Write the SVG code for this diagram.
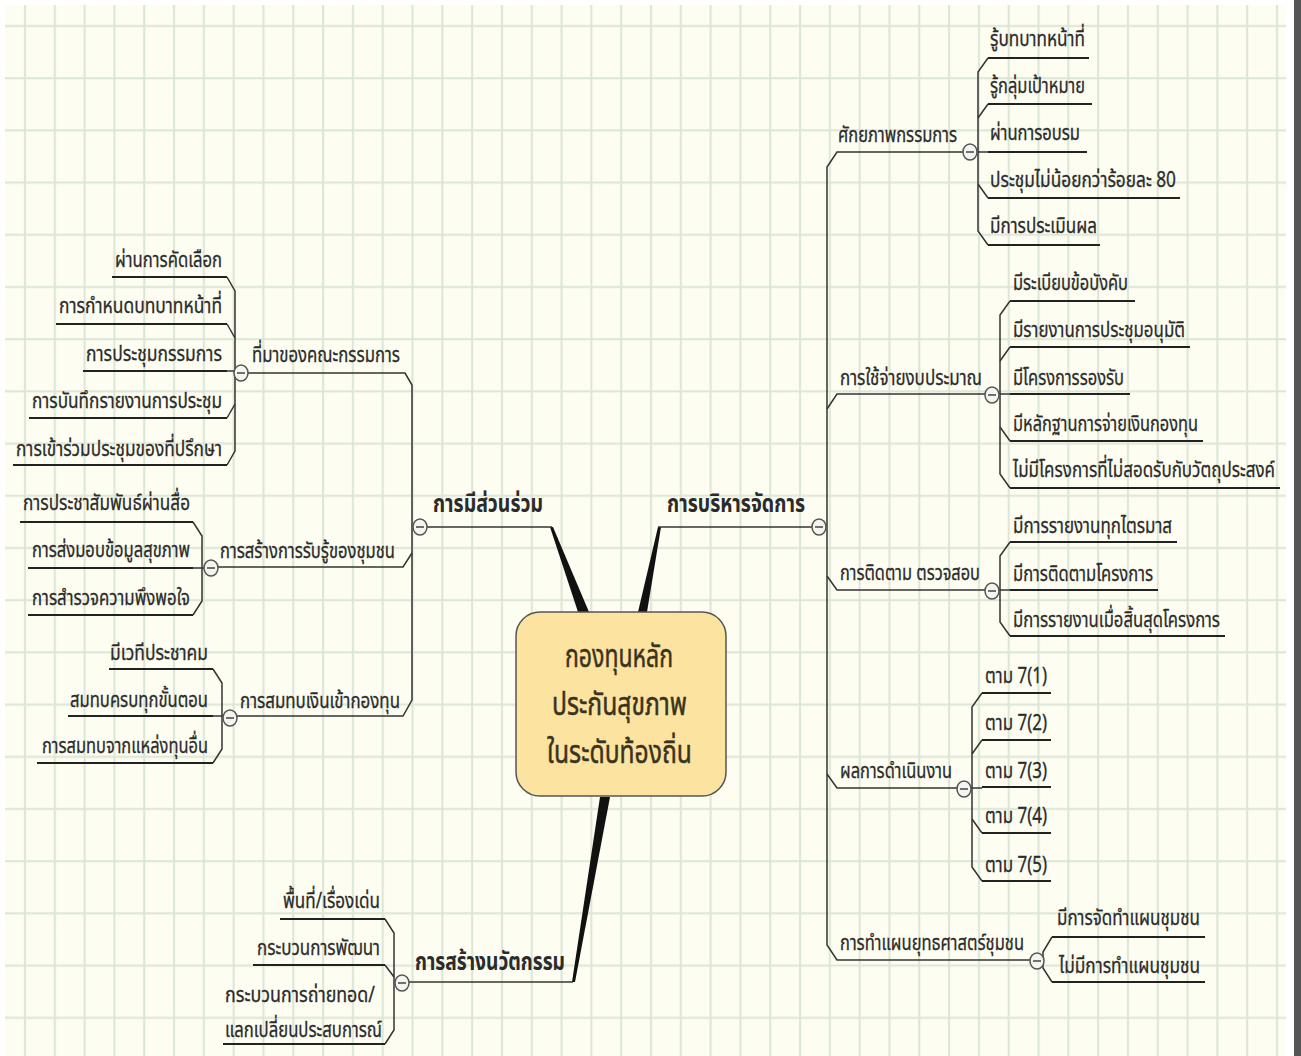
<svg xmlns="http://www.w3.org/2000/svg" width="1301" height="1056" viewBox="0 0 1301 1056">
<defs>
<pattern id="grid" patternUnits="userSpaceOnUse" x="10" y="11" width="29.81" height="52.2">
<rect width="29.81" height="52.2" fill="#FDFDF1"/>
<line x1="15" y1="0" x2="15" y2="52.2" stroke="#DCE6D6" stroke-width="2"/>
<line x1="0" y1="15" x2="29.81" y2="15" stroke="#DCE6D6" stroke-width="2"/>
</pattern>
</defs>
<style>
text{font-family:"Noto Sans Thai","Noto Sans","Liberation Sans",sans-serif;fill:#2b2b2b;}
.t{font-size:22px;stroke:#2b2b2b;stroke-width:0.3;}
.m{font-size:24px;font-weight:bold;}
.c{font-size:32px;fill:#3a3320;stroke:#3a3320;stroke-width:0.5;}
.ln{fill:none;stroke:#333;stroke-width:1.5;}
.ul{fill:none;stroke:#222;stroke-width:2;}
.cir{fill:#F4F4F0;stroke:#555;stroke-width:1.5;}
.mi{stroke:#444;stroke-width:1.5;}
.tp{fill:#111;}
</style>
<rect width="1301" height="1056" fill="#FFFFFF"/>
<rect x="5" y="5" width="1281" height="1051" fill="url(#grid)"/>
<rect x="1294" y="0" width="7" height="1056" fill="#555"/>

<g id="connectors">
<polygon class="tp" points="578,612 589,612 553,527 550,527"/>
<polygon class="tp" points="638,612 647,612 661,527 658,527"/>
<polygon class="tp" points="600,797 610,797 575,982 572,982"/>
<path class="ln" d="M658 527 L812 527"/>
<path class="ln" d="M552 527 L427 527"/>
<path class="ln" d="M573 982 L409 982"/>
<path class="ln" d="M963 152 L837 152 L827 167 L827 945 L837 960 L1030 960"/>
<path class="ln" d="M827 409 L837 394 L985 394"/>
<path class="ln" d="M827 576 L837 590 L985 590"/>
<path class="ln" d="M827 774 L837 788 L957 788"/>
<path class="ln" d="M248 373 L405 373 L412 385 L412 700 L403 716 L237 716"/>
<path class="ln" d="M218 567 L403 567 L412 553"/>
<path class="ln" d="M988 58 L978 72 L978 231 L988 245"/>
<path class="ln" d="M978 118 L988 104"/>
<path class="ln" d="M978 184 L988 198"/>
<path class="ln" d="M977 152 L988 152"/>
<path class="ln" d="M1010 301 L1000 315 L1000 474 L1010 488"/>
<path class="ln" d="M1000 361 L1010 347"/>
<path class="ln" d="M1000 427 L1010 441"/>
<path class="ln" d="M999 394 L1010 394"/>
<path class="ln" d="M1010 542 L1000 556 L1000 622 L1010 636"/>
<path class="ln" d="M999 590 L1010 590"/>
<path class="ln" d="M982 693 L972 707 L972 867 L982 881"/>
<path class="ln" d="M972 754 L982 740"/>
<path class="ln" d="M972 819 L982 833"/>
<path class="ln" d="M971 788 L982 788"/>
<path class="ln" d="M1052 937 L1043 952 L1043 968 L1052 982"/>
<path class="ln" d="M227 277 L235 291 L235 451 L227 465"/>
<path class="ln" d="M235 338 L227 324"/>
<path class="ln" d="M235 404 L227 418"/>
<path class="ln" d="M234 371 L227 371"/>
<path class="ln" d="M193 522 L202 536 L202 601 L193 615"/>
<path class="ln" d="M204 568 L193 568"/>
<path class="ln" d="M213 669 L222 683 L222 749 L213 763"/>
<path class="ln" d="M223 716 L213 716"/>
<path class="ln" d="M385 919 L394 933 L394 1030 L385 1044"/>
<path class="ln" d="M394 977 L385 965"/>
<path class="ul" d="M988 58 H1089 M988 104 H1092 M988 152 H1087 M988 198 H1180 M988 245 H1100"/>
<path class="ul" d="M1010 301 H1135 M1010 347 H1190 M1010 394 H1130 M1010 441 H1203 M1010 488 H1280"/>
<path class="ul" d="M1010 542 H1177 M1010 590 H1158 M1010 636 H1225"/>
<path class="ul" d="M982 693 H1051 M982 740 H1051 M982 787 H1051 M982 833 H1051 M982 881 H1051"/>
<path class="ul" d="M1052 937 H1205 M1052 982 H1205"/>
<path class="ul" d="M112 277 H227 M56 324 H227 M83 371 H227 M29 418 H227 M13 465 H227"/>
<path class="ul" d="M20 522 H193 M28 568 H193 M28 615 H193"/>
<path class="ul" d="M109 669 H213 M68 716 H213 M37 763 H213"/>
<path class="ul" d="M280 919 H385 M253 965 H385 M223 1044 H385"/>
</g>

<g id="center">
<rect x="516" y="612" width="210" height="184" rx="24" fill="#FCE3A0" stroke="#555" stroke-width="1.5"/>
<text class="c" x="565" y="667" textLength="108" lengthAdjust="spacingAndGlyphs">กองทุนหลัก</text>
<text class="c" x="552" y="715" textLength="135" lengthAdjust="spacingAndGlyphs">ประกันสุขภาพ</text>
<text class="c" x="547" y="763" textLength="145" lengthAdjust="spacingAndGlyphs">ในระดับท้องถิ่น</text>
</g>

<g id="n-management">
<text class="m" x="667" y="512" textLength="138" lengthAdjust="spacingAndGlyphs">การบริหารจัดการ</text>
<ellipse class="cir" cx="819" cy="527" rx="7" ry="8"/><line class="mi" x1="815" y1="527" x2="823" y2="527"/>
</g>
<g id="n-participation">
<text class="m" x="433" y="512" textLength="110" lengthAdjust="spacingAndGlyphs">การมีส่วนร่วม</text>
<ellipse class="cir" cx="420" cy="527" rx="7" ry="8"/><line class="mi" x1="416" y1="527" x2="424" y2="527"/>
</g>
<g id="n-innovation">
<text class="m" x="415" y="970" textLength="150" lengthAdjust="spacingAndGlyphs">การสร้างนวัตกรรม</text>
<ellipse class="cir" cx="402" cy="983" rx="7" ry="8"/><line class="mi" x1="398" y1="983" x2="406" y2="983"/>
</g>

<g id="n-capacity">
<text class="t" x="838" y="142" textLength="119" lengthAdjust="spacingAndGlyphs">ศักยภาพกรรมการ</text>
<ellipse class="cir" cx="970" cy="152" rx="7" ry="8"/><line class="mi" x1="966" y1="152" x2="974" y2="152"/>
</g>
<g id="l-cap1"><text class="t" x="990" y="46" textLength="95" lengthAdjust="spacingAndGlyphs">รู้บทบาทหน้าที่</text></g>
<g id="l-cap2"><text class="t" x="990" y="93" textLength="95" lengthAdjust="spacingAndGlyphs">รู้กลุ่มเป้าหมาย</text></g>
<g id="l-cap3"><text class="t" x="990" y="140" textLength="90" lengthAdjust="spacingAndGlyphs">ผ่านการอบรม</text></g>
<g id="l-cap4"><text class="t" x="990" y="187" textLength="186" lengthAdjust="spacingAndGlyphs">ประชุมไม่น้อยกว่าร้อยละ 80</text></g>
<g id="l-cap5"><text class="t" x="990" y="233" textLength="107" lengthAdjust="spacingAndGlyphs">มีการประเมินผล</text></g>

<g id="n-budget">
<text class="t" x="840" y="385" textLength="142" lengthAdjust="spacingAndGlyphs">การใช้จ่ายงบประมาณ</text>
<ellipse class="cir" cx="992" cy="395" rx="7" ry="8"/><line class="mi" x1="988" y1="395" x2="996" y2="395"/>
</g>
<g id="l-bud1"><text class="t" x="1013" y="290" textLength="115" lengthAdjust="spacingAndGlyphs">มีระเบียบข้อบังคับ</text></g>
<g id="l-bud2"><text class="t" x="1013" y="337" textLength="172" lengthAdjust="spacingAndGlyphs">มีรายงานการประชุมอนุมัติ</text></g>
<g id="l-bud3"><text class="t" x="1013" y="385" textLength="111" lengthAdjust="spacingAndGlyphs">มีโครงการรองรับ</text></g>
<g id="l-bud4"><text class="t" x="1013" y="431" textLength="185" lengthAdjust="spacingAndGlyphs">มีหลักฐานการจ่ายเงินกองทุน</text></g>
<g id="l-bud5"><text class="t" x="1013" y="477" textLength="262" lengthAdjust="spacingAndGlyphs">ไม่มีโครงการที่ไม่สอดรับกับวัตถุประสงค์</text></g>

<g id="n-monitor">
<text class="t" x="840" y="580" textLength="140" lengthAdjust="spacingAndGlyphs">การติดตาม ตรวจสอบ</text>
<ellipse class="cir" cx="992" cy="591" rx="7" ry="8"/><line class="mi" x1="988" y1="591" x2="996" y2="591"/>
</g>
<g id="l-mon1"><text class="t" x="1013" y="533" textLength="159" lengthAdjust="spacingAndGlyphs">มีการรายงานทุกไตรมาส</text></g>
<g id="l-mon2"><text class="t" x="1013" y="581" textLength="140" lengthAdjust="spacingAndGlyphs">มีการติดตามโครงการ</text></g>
<g id="l-mon3"><text class="t" x="1013" y="627" textLength="207" lengthAdjust="spacingAndGlyphs">มีการรายงานเมื่อสิ้นสุดโครงการ</text></g>

<g id="n-result">
<text class="t" x="840" y="778" textLength="112" lengthAdjust="spacingAndGlyphs">ผลการดำเนินงาน</text>
<ellipse class="cir" cx="964" cy="789" rx="7" ry="8"/><line class="mi" x1="960" y1="789" x2="968" y2="789"/>
</g>
<g id="l-res1"><text class="t" x="985" y="683" textLength="62" lengthAdjust="spacingAndGlyphs">ตาม 7(1)</text></g>
<g id="l-res2"><text class="t" x="985" y="730" textLength="62" lengthAdjust="spacingAndGlyphs">ตาม 7(2)</text></g>
<g id="l-res3"><text class="t" x="985" y="778" textLength="62" lengthAdjust="spacingAndGlyphs">ตาม 7(3)</text></g>
<g id="l-res4"><text class="t" x="985" y="823" textLength="62" lengthAdjust="spacingAndGlyphs">ตาม 7(4)</text></g>
<g id="l-res5"><text class="t" x="985" y="872" textLength="62" lengthAdjust="spacingAndGlyphs">ตาม 7(5)</text></g>

<g id="n-plan">
<text class="t" x="840" y="950" textLength="184" lengthAdjust="spacingAndGlyphs">การทำแผนยุทธศาสตร์ชุมชน</text>
<ellipse class="cir" cx="1037" cy="961" rx="7" ry="8"/><line class="mi" x1="1033" y1="961" x2="1041" y2="961"/>
</g>
<g id="l-plan1"><text class="t" x="1057" y="925" textLength="143" lengthAdjust="spacingAndGlyphs">มีการจัดทำแผนชุมชน</text></g>
<g id="l-plan2"><text class="t" x="1059" y="973" textLength="141" lengthAdjust="spacingAndGlyphs">ไม่มีการทำแผนชุมชน</text></g>

<g id="n-origin">
<text class="t" x="252" y="362" textLength="148" lengthAdjust="spacingAndGlyphs">ที่มาของคณะกรรมการ</text>
<ellipse class="cir" cx="241" cy="373" rx="7" ry="8"/><line class="mi" x1="237" y1="373" x2="245" y2="373"/>
</g>
<g id="l-ori1"><text class="t" x="115" y="267" textLength="107" lengthAdjust="spacingAndGlyphs">ผ่านการคัดเลือก</text></g>
<g id="l-ori2"><text class="t" x="59" y="313" textLength="163" lengthAdjust="spacingAndGlyphs">การกำหนดบทบาทหน้าที่</text></g>
<g id="l-ori3"><text class="t" x="86" y="361" textLength="136" lengthAdjust="spacingAndGlyphs">การประชุมกรรมการ</text></g>
<g id="l-ori4"><text class="t" x="32" y="408" textLength="190" lengthAdjust="spacingAndGlyphs">การบันทึกรายงานการประชุม</text></g>
<g id="l-ori5"><text class="t" x="16" y="456" textLength="206" lengthAdjust="spacingAndGlyphs">การเข้าร่วมประชุมของที่ปรึกษา</text></g>

<g id="n-awareness">
<text class="t" x="220" y="558" textLength="175" lengthAdjust="spacingAndGlyphs">การสร้างการรับรู้ของชุมชน</text>
<ellipse class="cir" cx="211" cy="568" rx="7" ry="8"/><line class="mi" x1="207" y1="568" x2="215" y2="568"/>
</g>
<g id="l-awa1"><text class="t" x="23" y="510" textLength="167" lengthAdjust="spacingAndGlyphs">การประชาสัมพันธ์ผ่านสื่อ</text></g>
<g id="l-awa2"><text class="t" x="32" y="557" textLength="158" lengthAdjust="spacingAndGlyphs">การส่งมอบข้อมูลสุขภาพ</text></g>
<g id="l-awa3"><text class="t" x="32" y="605" textLength="158" lengthAdjust="spacingAndGlyphs">การสำรวจความพึงพอใจ</text></g>

<g id="n-fund">
<text class="t" x="240" y="708" textLength="160" lengthAdjust="spacingAndGlyphs">การสมทบเงินเข้ากองทุน</text>
<ellipse class="cir" cx="230" cy="718" rx="7" ry="8"/><line class="mi" x1="226" y1="718" x2="234" y2="718"/>
</g>
<g id="l-fun1"><text class="t" x="110" y="660" textLength="98" lengthAdjust="spacingAndGlyphs">มีเวทีประชาคม</text></g>
<g id="l-fun2"><text class="t" x="70" y="707" textLength="138" lengthAdjust="spacingAndGlyphs">สมทบครบทุกขั้นตอน</text></g>
<g id="l-fun3"><text class="t" x="42" y="753" textLength="166" lengthAdjust="spacingAndGlyphs">การสมทบจากแหล่งทุนอื่น</text></g>

<g id="l-inn1"><text class="t" x="283" y="908" textLength="97" lengthAdjust="spacingAndGlyphs">พื้นที่/เรื่องเด่น</text></g>
<g id="l-inn2"><text class="t" x="257" y="955" textLength="123" lengthAdjust="spacingAndGlyphs">กระบวนการพัฒนา</text></g>
<g id="l-inn3">
<text class="t" x="225" y="1002" textLength="150" lengthAdjust="spacingAndGlyphs">กระบวนการถ่ายทอด/</text>
<text class="t" x="225" y="1037" textLength="157" lengthAdjust="spacingAndGlyphs">แลกเปลี่ยนประสบการณ์</text>
</g>
</svg>
